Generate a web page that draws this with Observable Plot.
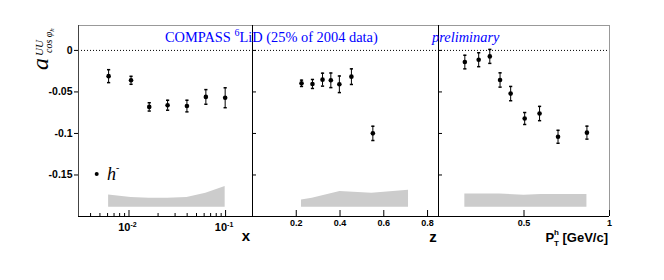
<!DOCTYPE html>
<html><head><meta charset="utf-8">
<script src="https://cdn.jsdelivr.net/npm/d3@7"></script>
<script src="https://cdn.jsdelivr.net/npm/@observablehq/plot@0.6"></script>
<style>
body{margin:0;background:#fff;}
#wrap{position:relative;width:664px;height:280px;}
#wrap svg{position:absolute;left:0;top:0;overflow:visible;background:transparent;}
</style></head><body><div id="wrap"></div>
<script>
// ---- data: panel x (Bjorken x) ----
const xBins   = [0.00615, 0.0105, 0.0162, 0.0251, 0.0398, 0.0625, 0.099];
const xAsym   = [-0.031, -0.036, -0.068, -0.066, -0.067, -0.056, -0.057];
const xErr    = [0.0078, 0.0048, 0.005, 0.006, 0.007, 0.0088, 0.012];
const xBandX  = [0.00615, 0.0105, 0.0162, 0.0251, 0.0398, 0.0625, 0.099];
const xBandSys= [0.015, 0.012, 0.011, 0.011, 0.012, 0.017, 0.025];
// ---- data: panel z ----
const zBins   = [0.224, 0.274, 0.32, 0.358, 0.397, 0.452, 0.55];
const zAsym   = [-0.0396, -0.0404, -0.0352, -0.036, -0.0408, -0.0316, -0.0999];
const zErr    = [0.0038, 0.0054, 0.0078, 0.0088, 0.01, 0.0094, 0.0086];
const zBandX  = [0.224, 0.273, 0.4, 0.545, 0.713];
const zBandSys= [0.009, 0.011, 0.019, 0.017, 0.0207];
// ---- data: panel pT ----
const pBins   = [0.154, 0.235, 0.30, 0.36, 0.422, 0.504, 0.591, 0.699, 0.868];
const pAsym   = [-0.014, -0.0112, -0.0072, -0.0356, -0.052, -0.082, -0.076, -0.104, -0.099];
const pErr    = [0.0082, 0.0084, 0.0084, 0.0086, 0.0086, 0.0072, 0.0086, 0.0078, 0.0078];
const pBandX  = [0.154, 0.36, 0.5, 0.6, 0.868];
const pBandSys= [0.016, 0.016, 0.0145, 0.0155, 0.0155];
// ---- axes ----
const yDomain = [-0.2, 0.03];
const bandBase = -0.189;
const yTicks = [0, -0.05, -0.1, -0.15];
const yTickLabels = ["0", "-0.05", "-0.1", "-0.15"];
const xMajor = [0.01, 0.1];
const xMinor = [0.004,0.005,0.006,0.007,0.008,0.009,0.02,0.03,0.04,0.05,0.06,0.07,0.08,0.09];
const xTickExp = ["-2", "-1"];
const zTicks = [0.2, 0.4, 0.6, 0.8];
const zTickLabels = ["0.2", "0.4", "0.6", "0.8"];
const pTicks = [0.5, 1];
const pTickLabels = ["0.5", "1"];

const W = 664, H = 280, MT = 25, MB = 64;
const plotH = H - MT - MB;
const SANS = "Liberation Sans, Arial, Helvetica, sans-serif";
const SERIF = "Liberation Serif, Times New Roman, serif";
const cap = {draw(ctx){ ctx.moveTo(-1.6,0); ctx.lineTo(1.6,0); }};

const panels = [
  {left:78, right:252, type:"log", domain:[0.003,0.19], x:xBins, y:xAsym, e:xErr, bx:xBandX, bs:xBandSys, first:true},
  {left:252, right:438, type:"linear", domain:[0,0.85], x:zBins, y:zAsym, e:zErr, bx:zBandX, bs:zBandSys},
  {left:438, right:609, type:"linear", domain:[0,1], x:pBins, y:pAsym, e:pErr, bx:pBandX, bs:pBandSys, last:true}
];

const wrap = document.getElementById("wrap");
panels.forEach((p, k) => {
  const pts = p.x.map((v,i)=>({x:v, y:p.y[i], e:p.e[i]}));
  const band = p.bx.map((v,i)=>({x:v, s:p.bs[i]}));
  const pw = p.right - p.left;
  const marks = [
    Plot.areaY(band, {x:"x", y1: bandBase, y2: d=>bandBase + d.s, fill:"#cccccc"}),
    Plot.ruleY([0], {stroke:"#000", strokeDasharray:"1,2"}),
    Plot.ruleY([yDomain[1]], {stroke:"#999"}),
    Plot.ruleY([yDomain[0]], {stroke:"#000"}),
    Plot.ruleX([p.domain[0]], {stroke: p.first ? "#444" : "#000"}),
    Plot.tickY(yTicks, {y:d=>d, stroke:"#000", insetLeft: p.first ? -4 : 0, insetRight: p.first ? pw : pw - 4})
  ];
  if (p.last) marks.push(Plot.ruleX([p.domain[1]], {stroke:"#999"}));
  if (k === 0) {
    marks.push(
      Plot.tickX(xMajor, {x:d=>d, stroke:"#000", insetTop: plotH - 6}),
      Plot.tickX(xMinor, {x:d=>d, stroke:"#000", insetTop: plotH - 3}),
      Plot.text(yTicks, {y:d=>d, text:(d,i)=>yTickLabels[i], frameAnchor:"left", textAnchor:"end", dx:-6, fontSize:10.5, fontWeight:"bold", fontFamily:SANS}),
      Plot.text(xMajor, {x:d=>d, text:()=> "10", frameAnchor:"bottom", textAnchor:"end", dx:1.5, dy:14, fontSize:11, fontWeight:"bold", fontFamily:SANS}),
      Plot.text(xMajor, {x:d=>d, text:(d,i)=>xTickExp[i], frameAnchor:"bottom", textAnchor:"start", dx:1.5, dy:10, fontSize:7, fontWeight:"bold", fontFamily:SANS})
    );
  } else {
    const tv = k === 1 ? zTicks : pTicks;
    const tl = k === 1 ? zTickLabels : pTickLabels;
    marks.push(
      Plot.tickX(tv, {x:d=>d, stroke:"#000", insetTop: plotH - 6}),
      Plot.text(tv, {x:d=>d, text:(d,i)=>tl[i], frameAnchor:"bottom", dy:9, fontSize:9, fontWeight:"bold", fontFamily:SANS})
    );
  }
  marks.push(
    Plot.ruleX(pts, {x:"x", y1:d=>d.y - d.e, y2:d=>d.y + d.e, stroke:"#000"}),
    Plot.dot(pts, {x:"x", y:d=>d.y + d.e, symbol:cap, stroke:"#000", fill:"none"}),
    Plot.dot(pts, {x:"x", y:d=>d.y - d.e, symbol:cap, stroke:"#000", fill:"none"}),
    Plot.dot(pts, {x:"x", y:"y", r:2.3, fill:"#000"})
  );
  const chart = Plot.plot({
    width: W, height: H,
    marginLeft: p.left, marginRight: W - p.right, marginTop: MT, marginBottom: MB,
    x: {type: p.type, domain: p.domain, axis: null},
    y: {domain: yDomain, axis: null},
    style: {background: "transparent", overflow: "visible"},
    marks
  });
  wrap.appendChild(chart);
});

// ---- overlay texts ----
const svg = d3.select(wrap).append("svg").attr("width", W).attr("height", H);
const t1 = svg.append("text").attr("x",165).attr("y",42).attr("font-family",SERIF).attr("font-size",14.4).attr("fill","#0000ff");
t1.append("tspan").text("COMPASS ");
t1.append("tspan").attr("font-size",10).attr("dy",-6).text("6");
t1.append("tspan").attr("dy",6).text("LiD (25% of 2004 data)");
svg.append("text").attr("x",432).attr("y",42).attr("font-family",SERIF).attr("font-style","italic").attr("font-size",14.4).attr("fill","#0000ff").text("preliminary");

// y axis title
const yl = svg.append("g").attr("transform","translate(48,70) rotate(-90)").attr("font-family",SERIF).attr("font-style","italic");
yl.append("text").attr("x",0).attr("y",0).attr("font-size",24).text("a");
yl.append("text").attr("x",14).attr("y",-5).attr("font-size",11).text("UU");
const sub = yl.append("text").attr("x",17).attr("y",4).attr("font-size",10);
sub.append("tspan").text("cos φ");
sub.append("tspan").attr("font-size",7).attr("dy",2).text("h");

// axis titles
svg.append("text").attr("x",246).attr("y",241).attr("text-anchor","middle").attr("font-family",SANS).attr("font-weight","bold").attr("font-size",15).text("x");
svg.append("text").attr("x",433).attr("y",242).attr("text-anchor","middle").attr("font-family",SANS).attr("font-weight","bold").attr("font-size",15).text("z");
const pt = svg.append("text").attr("x",608).attr("y",242).attr("text-anchor","end").attr("font-family",SANS).attr("font-weight","bold").attr("font-size",13);
pt.append("tspan").text("P");
pt.append("tspan").attr("font-size",8).attr("dy",4).text("T");
pt.append("tspan").attr("font-size",8).attr("dx",-5).attr("dy",-11).text("h");
pt.append("tspan").attr("dy",7).text(" [GeV/c]");

// legend
svg.append("circle").attr("cx",96.7).attr("cy",174).attr("r",2).attr("fill","#000");
const lg = svg.append("text").attr("x",107).attr("y",180).attr("font-family",SERIF).attr("font-style","italic").attr("font-size",18);
lg.append("tspan").text("h");
lg.append("tspan").attr("font-size",10).attr("dy",-9).text("-");
</script></body></html>
